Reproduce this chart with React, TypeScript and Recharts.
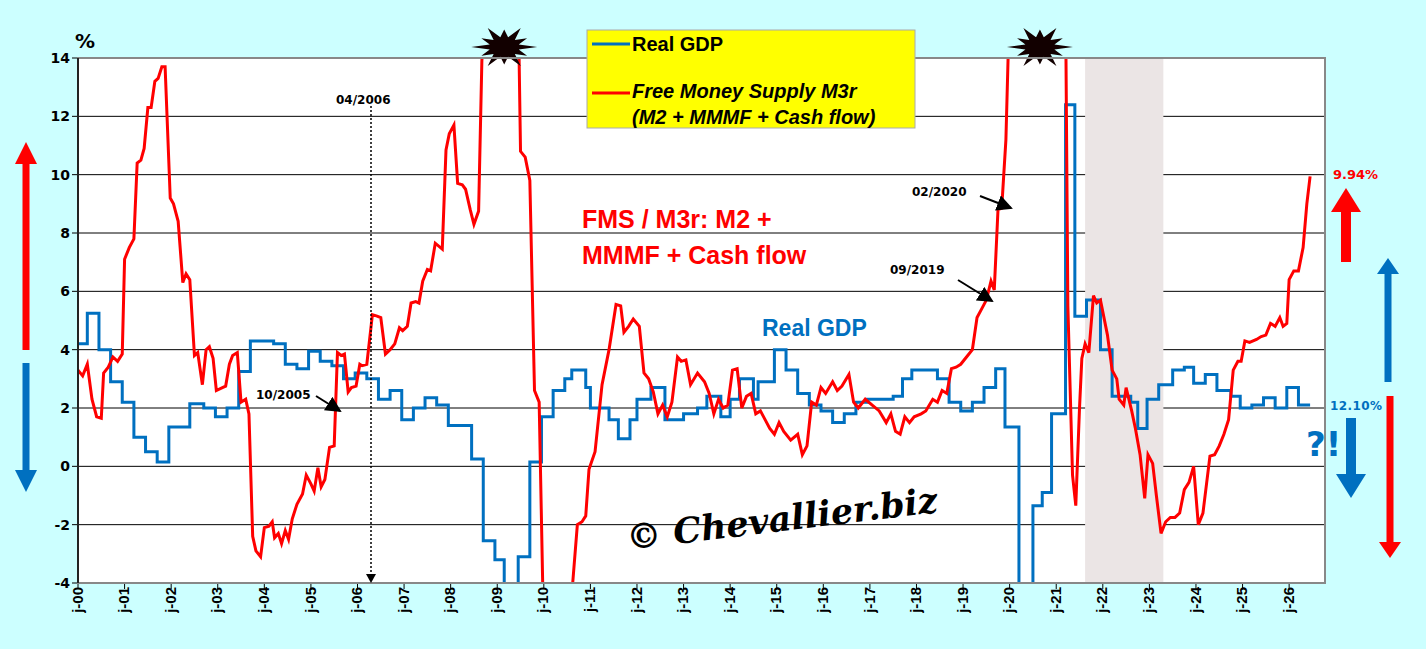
import React from "react";
import {
  LineChart,
  Line,
  XAxis,
  YAxis,
  CartesianGrid,
  ReferenceArea,
  ReferenceDot,
} from "recharts";

// years since Jan 2000
const gdpT = [0, 0.2, 0.45, 0.7, 0.95, 1.2, 1.45, 1.7, 1.95, 2.4, 2.7, 2.95, 3.2, 3.45, 3.7, 4.2, 4.45, 4.7, 4.95, 5.2, 5.45, 5.7, 5.95, 6.2, 6.45, 6.7, 6.95, 7.2, 7.45, 7.7, 7.95, 8.45, 8.7, 8.95, 9.15, 9.45, 9.7, 9.95, 10.2, 10.45, 10.6, 10.9, 11.0, 11.4, 11.6, 11.85, 12.0, 12.3, 12.6, 13.0, 13.3, 13.5, 13.8, 14.0, 14.2, 14.5, 14.6, 14.95, 15.2, 15.45, 15.7, 15.95, 16.2, 16.45, 16.7, 16.95, 17.5, 17.7, 17.9, 18.45, 18.7, 18.95, 19.2, 19.45, 19.7, 19.9, 20.2, 20.5, 20.7, 20.9, 21.2, 21.4, 21.65, 21.95, 22.2, 22.6, 22.75, 22.95, 23.2, 23.5, 23.75, 23.95, 24.2, 24.45, 24.75, 24.95, 25.2, 25.45, 25.7, 25.95, 26.2, 26.45];
const gdpV = [4.2, 5.25, 4.0, 2.9, 2.2, 1.0, 0.5, 0.15, 1.35, 2.15, 2.0, 1.7, 2.0, 3.25, 4.3, 4.2, 3.5, 3.35, 3.95, 3.6, 3.45, 3.0, 3.2, 3.0, 2.3, 2.6, 1.6, 2.0, 2.35, 2.1, 1.4, 0.25, -2.55, -3.2, -4.3, -3.1, 0.15, 1.7, 2.6, 3.0, 3.3, 2.7, 2.0, 1.6, 0.95, 1.6, 2.3, 2.7, 1.6, 1.8, 2.0, 2.4, 1.7, 2.3, 3.0, 2.3, 2.9, 4.0, 3.3, 2.5, 2.1, 1.9, 1.5, 1.8, 2.2, 2.3, 2.4, 3.0, 3.3, 3.0, 2.2, 1.9, 2.2, 2.7, 3.35, 1.35, -9.0, -1.35, -0.9, 1.8, 12.4, 5.15, 5.7, 4.0, 2.4, 2.2, 1.3, 2.3, 2.8, 3.3, 3.4, 2.85, 3.15, 2.6, 2.4, 2.0, 2.1, 2.35, 2.0, 2.7, 2.1, 2.1];

const fmsT = [0, 0.1, 0.2, 0.3, 0.4, 0.5, 0.55, 0.65, 0.75, 0.85, 0.95, 1.0, 1.1, 1.2, 1.27, 1.35, 1.42, 1.5, 1.57, 1.65, 1.72, 1.8, 1.87, 1.98, 2.05, 2.15, 2.25, 2.32, 2.4, 2.5, 2.57, 2.67, 2.75, 2.82, 2.9, 2.97, 3.1, 3.17, 3.25, 3.32, 3.42, 3.5, 3.6, 3.67, 3.75, 3.82, 3.92, 4.0, 4.1, 4.17, 4.22, 4.3, 4.37, 4.45, 4.52, 4.6, 4.7, 4.82, 4.9, 5.0, 5.07, 5.15, 5.22, 5.3, 5.4, 5.5, 5.57, 5.65, 5.72, 5.8, 5.87, 5.97, 6.05, 6.1, 6.2, 6.32, 6.42, 6.5, 6.6, 6.7, 6.8, 6.9, 6.97, 7.07, 7.15, 7.25, 7.32, 7.4, 7.5, 7.57, 7.67, 7.82, 7.9, 7.97, 8.07, 8.15, 8.25, 8.32, 8.42, 8.5, 8.6, 8.67, 8.75, 9.45, 9.5, 9.6, 9.7, 9.8, 9.9, 10.0, 10.62, 10.72, 10.82, 10.9, 10.97, 11.1, 11.25, 11.4, 11.55, 11.65, 11.72, 11.82, 11.92, 12.05, 12.15, 12.25, 12.35, 12.45, 12.55, 12.65, 12.75, 12.87, 12.95, 13.05, 13.15, 13.3, 13.45, 13.55, 13.65, 13.75, 13.85, 13.95, 14.05, 14.15, 14.25, 14.35, 14.45, 14.55, 14.65, 14.75, 14.85, 14.95, 15.05, 15.15, 15.3, 15.45, 15.55, 15.65, 15.75, 15.85, 15.95, 16.05, 16.2, 16.3, 16.4, 16.55, 16.65, 16.75, 16.9, 17.05, 17.2, 17.35, 17.45, 17.55, 17.65, 17.75, 17.85, 17.95, 18.1, 18.2, 18.35, 18.45, 18.55, 18.65, 18.75, 18.85, 18.95, 19.1, 19.2, 19.3, 19.4, 19.5, 19.6, 19.67, 19.75, 19.83, 19.92, 20.0, 21.2, 21.25, 21.3, 21.35, 21.42, 21.5, 21.55, 21.62, 21.7, 21.8, 21.87, 21.95, 22.1, 22.2, 22.3, 22.35, 22.45, 22.5, 22.62, 22.7, 22.8, 22.9, 22.97, 23.07, 23.15, 23.25, 23.35, 23.45, 23.55, 23.65, 23.75, 23.85, 23.95, 24.05, 24.15, 24.3, 24.4, 24.5, 24.6, 24.7, 24.8, 24.9, 24.97, 25.05, 25.15, 25.3, 25.4, 25.5, 25.6, 25.7, 25.8, 25.87, 25.95, 26.0, 26.1, 26.2, 26.3, 26.38, 26.45];
const fmsV = [3.3, 3.1, 3.5, 2.3, 1.7, 1.65, 3.2, 3.4, 3.75, 3.6, 3.85, 7.1, 7.5, 7.8, 10.4, 10.5, 10.9, 12.3, 12.3, 13.2, 13.3, 13.7, 13.7, 9.2, 9.0, 8.4, 6.3, 6.6, 6.4, 3.8, 3.9, 2.8, 4.0, 4.1, 3.7, 2.6, 2.7, 2.75, 3.5, 3.8, 3.9, 2.2, 2.3, 1.8, -2.4, -2.9, -3.1, -2.1, -2.05, -1.9, -2.45, -2.3, -2.65, -2.2, -2.5, -1.8, -1.3, -0.95, -0.3, -0.6, -0.85, -0.05, -0.7, -0.45, 0.65, 0.7, 3.9, 3.8, 3.85, 2.55, 2.7, 2.75, 3.5, 3.45, 3.5, 5.2, 5.15, 5.1, 3.85, 4.0, 4.2, 4.75, 4.65, 4.8, 5.6, 5.65, 5.6, 6.35, 6.75, 6.7, 7.65, 7.45, 10.85, 11.4, 11.7, 9.7, 9.65, 9.5, 8.8, 8.3, 8.75, 13.9, 16, 16, 10.8, 10.6, 9.8, 2.6, 2.2, -6, -4.0, -2.0, -1.9, -1.7, -0.1, 0.5, 2.8, 4.0, 5.55, 5.5, 4.6, 4.8, 5.05, 4.8, 3.2, 3.0, 2.55, 1.8, 2.1, 1.7, 2.2, 3.75, 3.6, 3.65, 2.8, 3.2, 2.9, 2.5, 1.8, 2.3, 2.0, 2.1, 3.3, 3.35, 2.0, 2.4, 2.5, 1.8, 1.9, 1.6, 1.3, 1.1, 1.5, 1.2, 0.9, 1.1, 0.4, 0.7, 2.2, 2.1, 2.7, 2.5, 2.9, 2.6, 2.75, 3.15, 2.2, 2.0, 2.3, 2.1, 1.9, 1.5, 1.8, 1.2, 1.1, 1.7, 1.5, 1.7, 1.8, 1.9, 2.3, 2.2, 2.6, 2.5, 3.35, 3.4, 3.5, 3.8, 4.0, 5.1, 5.4, 5.7, 6.35, 6.05, 8.8, 8.85, 11.2, 16, 16, 5.5, 2.6, -0.3, -1.35, 2.0, 3.7, 4.2, 3.9, 5.85, 5.6, 5.7, 4.5, 3.3, 3.0, 2.3, 2.1, 2.7, 1.9, 1.3, 0.4, -1.1, 0.4, 0.1, -1.0, -2.3, -1.9, -1.75, -1.75, -1.6, -0.8, -0.55, 0.0, -2.0, -1.6, 0.35, 0.4, 0.7, 1.1, 1.6, 3.3, 3.6, 3.6, 4.3, 4.25, 4.35, 4.45, 4.5, 4.9, 4.8, 5.1, 4.8, 4.9, 6.4, 6.7, 6.7, 7.5, 9.0, 9.94];

const yearTicks = Array.from({ length: 27 }, (_, i) => i);
const yTicks = [-4, -2, 0, 2, 4, 6, 8, 10, 12, 14];

const gdpData = gdpT.map((t, i) => ({ t, gdp: gdpV[i] }));
const fmsData = fmsT.map((t, i) => ({ t, fms: fmsV[i] }));

const font = "'DejaVu Sans', Verdana, sans-serif";

const starPoints = (cx: number, cy: number, r1: number, r2: number, n: number) => {
  const pts: string[] = [];
  for (let i = 0; i < n * 2; i++) {
    const r = i % 2 === 0 ? r1 * (i % 4 === 0 ? 1 : 0.8) : r2;
    const a = (Math.PI * i) / n;
    pts.push(`${cx + r * Math.cos(a) * 1.5},${cy + r * Math.sin(a)}`);
  }
  return pts.join(" ");
};

const Star = (props: any) => (
  <polygon points={starPoints(props.cx, props.cy - 11, 22, 10, 12)} fill="#120000" />
);

const Arrow = ({ x, y1, y2, color, w = 8, head = 18, hw = 16 }: any) => {
  const dir = y2 < y1 ? -1 : 1;
  const yb = y2 - dir * head;
  return (
    <g fill={color}>
      <rect x={x - w / 2} y={Math.min(y1, yb)} width={w} height={Math.abs(yb - y1)} />
      <polygon points={`${x - hw},${yb} ${x + hw},${yb} ${x},${y2}`} />
    </g>
  );
};

const Overlay = () => (
  <svg width={1426} height={649} style={{ position: "absolute", left: 0, top: 0, pointerEvents: "none" }}>
    <defs>
      <marker id="ah" markerWidth="8" markerHeight="8" refX="7" refY="4" orient="auto">
        <polygon points="0,0 8,4 0,8" fill="#000" />
      </marker>
    </defs>
    <rect x={78} y={58} width={1247} height={525} fill="none" stroke="#888" strokeWidth={2} />
    <line x1={78} y1={58} x2={78} y2={583} stroke="#000" strokeWidth={1.5} />
    <text x={75} y={48} fontFamily={font} fontWeight="bold" fontSize={20}>%</text>

    <rect x={587} y={30} width={328} height={98} fill="#ffff00" stroke="#aaa" />
    <line x1={592} y1={44} x2={630} y2={44} stroke="#0070c0" strokeWidth={3} />
    <text x={632} y={51} fontFamily="Arial, 'Liberation Sans'" fontWeight="bold" fontSize={20}>Real GDP</text>
    <line x1={592} y1={93} x2={630} y2={93} stroke="#ff0000" strokeWidth={3} />
    <text x={632} y={98} fontFamily="Arial, 'Liberation Sans'" fontWeight="bold" fontStyle="italic" fontSize={20}>Free Money Supply M3r</text>
    <text x={632} y={124} fontFamily="Arial, 'Liberation Sans'" fontWeight="bold" fontStyle="italic" fontSize={20}>(M2 + MMMF + Cash flow)</text>

    <text x={582} y={228} fill="#ff0000" fontFamily="Arial, 'Liberation Sans'" fontWeight="bold" fontSize={25}>FMS / M3r: M2 +</text>
    <text x={582} y={264} fill="#ff0000" fontFamily="Arial, 'Liberation Sans'" fontWeight="bold" fontSize={25}>MMMF + Cash flow</text>
    <text x={762} y={336} fill="#0070c0" fontFamily="Arial, 'Liberation Sans'" fontWeight="bold" fontSize={23}>Real GDP</text>
    <text x={628} y={550} fontFamily="'DejaVu Serif', serif" fontStyle="italic" fontWeight="bold" fontSize={35} transform="rotate(-7 628 550)">© Chevallier.biz</text>

    <text x={336} y={104} fontFamily={font} fontWeight="bold" fontSize={12}>04/2006</text>
    <line x1={371} y1={106} x2={371} y2={574} stroke="#000" strokeDasharray="2 2" strokeWidth={1.5} />
    <polygon points="366,574 376,574 371,583" fill="#000" />
    <text x={256} y={399} fontFamily={font} fontWeight="bold" fontSize={12}>10/2005</text>
    <line x1={316} y1={396} x2={340} y2={411} stroke="#000" strokeWidth={2} markerEnd="url(#ah)" />
    <text x={912} y={196} fontFamily={font} fontWeight="bold" fontSize={12}>02/2020</text>
    <line x1={980} y1={196} x2={1011} y2={208} stroke="#000" strokeWidth={2} markerEnd="url(#ah)" />
    <text x={890} y={274} fontFamily={font} fontWeight="bold" fontSize={12}>09/2019</text>
    <line x1={958} y1={280} x2={992} y2={301} stroke="#000" strokeWidth={2} markerEnd="url(#ah)" />

    <Arrow x={26} y1={350} y2={142} color="#ff0000" w={7} hw={11} head={22} />
    <Arrow x={26} y1={363} y2={492} color="#0070c0" w={7} hw={11} head={22} />
    <Arrow x={1346} y1={262} y2={188} color="#ff0000" w={10} hw={15} head={24} />
    <Arrow x={1388} y1={382} y2={258} color="#0070c0" w={7} hw={11} head={16} />
    <Arrow x={1390} y1={396} y2={558} color="#ff0000" w={7} hw={11} head={16} />
    <Arrow x={1351} y1={418} y2={498} color="#0070c0" w={10} hw={15} head={24} />

    <text x={1333} y={179} fill="#ff0000" fontFamily={font} fontWeight="bold" fontSize={13}>9.94%</text>
    <text x={1330} y={410} fill="#0070c0" fontFamily={font} fontWeight="bold" fontSize={12} textLength={52}>12.10%</text>
    <text x={1306} y={456} fill="#0070c0" fontFamily={font} fontWeight="bold" fontSize={34}>?!</text>
  </svg>
);

export default function App() {
  return (
    <div style={{ position: "absolute", left: 0, top: 0, width: 1426, height: 649, background: "#ccffff" }}>
      <LineChart width={1426} height={649} margin={{ top: 58, right: 101, bottom: 8, left: 28 }}>
        <ReferenceArea x1={21.62} x2={23.3} y1={-4} y2={14} fill="#ebe5e5" fillOpacity={1} />
        <CartesianGrid vertical={false} stroke="#000" strokeWidth={1} fill="#fff" />
        <XAxis
          type="number"
          dataKey="t"
          domain={[0, 26.77]}
          ticks={yearTicks}
          allowDataOverflow
          tickFormatter={(v: number) => `j-${String(v).padStart(2, "0")}`}
          angle={-90}
          textAnchor="end"
          dx={-6}
          dy={-4}
          height={58}
          interval={0}
          tick={{ fill: "#000", fontSize: 15, fontWeight: "bold", fontFamily: "Arial, 'Liberation Sans'" }}
          axisLine={{ stroke: "#000" }}
          tickLine={{ stroke: "#000" }}
        />
        <YAxis
          domain={[-4, 14]}
          ticks={yTicks}
          allowDataOverflow
          width={50}
          tick={{ fill: "#000", fontSize: 14, fontWeight: "bold", fontFamily: font }}
          axisLine={false}
          tickLine={{ stroke: "#000" }}
        />
        <Line data={gdpData} dataKey="gdp" type="stepAfter" stroke="#0070c0" strokeWidth={3} dot={false} isAnimationActive={false} />
        <Line data={fmsData} dataKey="fms" type="linear" stroke="#ff0000" strokeWidth={3} dot={false} isAnimationActive={false} />
        <ReferenceDot x={9.15} y={14} r={0} shape={Star} ifOverflow="visible" />
        <ReferenceDot x={20.65} y={14} r={0} shape={Star} ifOverflow="visible" />
      </LineChart>
      <Overlay />
    </div>
  );
}
